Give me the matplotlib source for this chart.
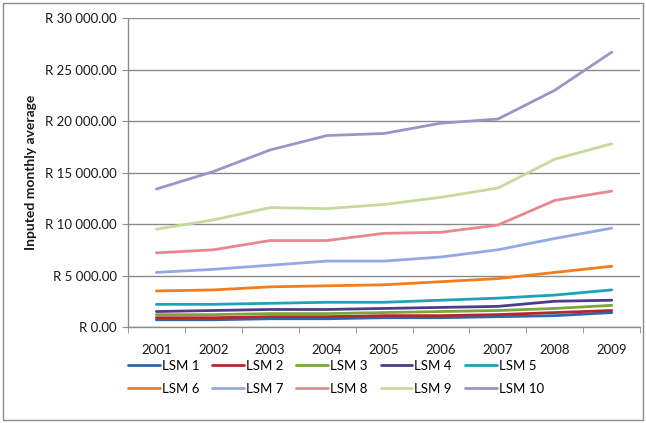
import matplotlib
matplotlib.use("Agg")
import matplotlib.pyplot as plt
from matplotlib.patches import Rectangle
from matplotlib.ticker import FuncFormatter, FixedLocator

plt.rcParams['font.family'] = ['Lato', 'DejaVu Sans']

years = ["2001", "2002", "2003", "2004", "2005", "2006", "2007", "2008", "2009"]

lsm1 = [700, 700, 800, 800, 900, 900, 1000, 1100, 1400]
lsm2 = [900, 900, 1000, 1000, 1100, 1100, 1200, 1400, 1600]
lsm3 = [1200, 1200, 1300, 1300, 1400, 1500, 1600, 1800, 2100]
lsm4 = [1500, 1600, 1700, 1700, 1800, 1900, 2000, 2500, 2600]
lsm5 = [2200, 2200, 2300, 2400, 2400, 2600, 2800, 3100, 3600]
lsm6 = [3500, 3600, 3900, 4000, 4100, 4400, 4700, 5300, 5900]
lsm7 = [5300, 5600, 6000, 6400, 6400, 6800, 7500, 8600, 9600]
lsm8 = [7200, 7500, 8400, 8400, 9100, 9200, 9900, 12300, 13200]
lsm9 = [9500, 10400, 11600, 11500, 11900, 12600, 13500, 16300, 17800]
lsm10 = [13400, 15100, 17200, 18600, 18800, 19800, 20200, 23000, 26700]

series_names = ["LSM 1", "LSM 2", "LSM 3", "LSM 4", "LSM 5",
                "LSM 6", "LSM 7", "LSM 8", "LSM 9", "LSM 10"]
series_values = [lsm1, lsm2, lsm3, lsm4, lsm5, lsm6, lsm7, lsm8, lsm9, lsm10]
colors = ["#2a67ad", "#b3282f", "#7aa63c", "#4f3b88", "#22a1b6",
          "#f07d1e", "#93a9e2", "#e8878e", "#c5da9c", "#9d93c5"]

fig = plt.figure(figsize=(6.46, 4.23), dpi=100)
ax = fig.add_axes([0.198, 0.227, 0.793, 0.730])

x = list(range(len(years)))
handles = []
for name, vals, c in zip(series_names, series_values, colors):
    h, = ax.plot(x, vals, color=c, lw=2.0, label=name, solid_capstyle='round')
    handles.append(h)

ax.set_xlim(-0.5, len(years) - 0.5)
ax.set_ylim(0, 30000)
ax.set_yticks(range(0, 30001, 5000))

def rand_fmt(v, pos):
    s = f"{v:,.2f}".replace(",", " ")
    return "R " + s

ax.yaxis.set_major_formatter(FuncFormatter(rand_fmt))
ax.set_xticks(x)
ax.set_xticklabels(years)
ax.xaxis.set_minor_locator(FixedLocator([i - 0.5 for i in range(len(years) + 1)]))
ax.tick_params(axis='x', which='major', length=0, pad=12, labelsize=9.5, colors='#1a1a1a')
ax.tick_params(axis='x', which='minor', length=4, color='#8c8c8c', direction='out')
ax.tick_params(axis='y', length=4, color='#8c8c8c', direction='out', pad=4,
               labelsize=9.5, labelcolor='#1a1a1a')

ax.grid(axis='y', color='#8a8a8a', lw=1.0)
ax.set_axisbelow(True)
for s in ['top', 'right']:
    ax.spines[s].set_visible(False)
for s in ['left', 'bottom']:
    ax.spines[s].set_color('#8c8c8c')
    ax.spines[s].set_linewidth(1.0)

ax.set_ylabel("Inputed monthly average", fontsize=10, fontweight='bold',
              color='#1a1a1a', labelpad=6)

# legend laid out row by row: LSM 1-5 on top, LSM 6-10 below
order = [0, 5, 1, 6, 2, 7, 3, 8, 4, 9]
ax.legend([handles[i] for i in order], [series_names[i] for i in order],
          loc='upper center', bbox_to_anchor=(0.52, 0.178),
          bbox_transform=fig.transFigure, ncol=5, frameon=False,
          fontsize=9.5, handlelength=2.4, handletextpad=0.15,
          columnspacing=1.0, labelspacing=0.85)

fig.patches.append(Rectangle((0.005, 0.007), 0.99, 0.985, transform=fig.transFigure,
                             fill=False, edgecolor='#8c8c8c', lw=1.0))

fig.savefig("out.png", dpi=100)
